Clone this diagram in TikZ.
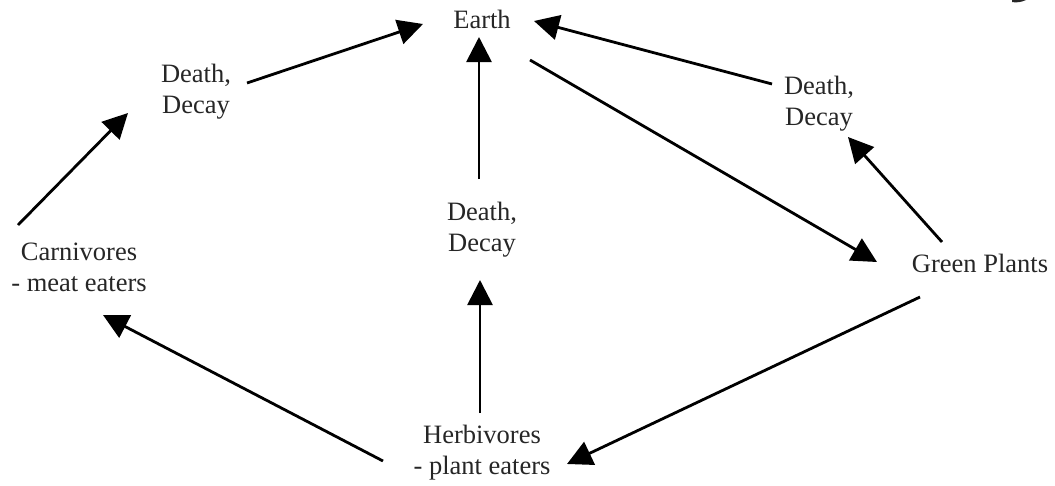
\documentclass[tikz,border=0pt]{standalone}
\usepackage{fontspec}
\setmainfont{Liberation Serif}
\usetikzlibrary{arrows.meta}
\begin{document}
\begin{tikzpicture}[x=1pt,y=-1pt,
  lbl/.style={inner sep=0pt,align=center,font=\fontsize{26.5}{31}\selectfont,text=black!85},
  conn/.style={line width=2.8pt,-{Triangle[length=25pt,width=25pt]}}]
\useasboundingbox (0,0) rectangle (1055,485);
% labels
\node[lbl] (earth) at (482,19) {Earth};
\node[lbl] (ddl) at (196,92) {Death,\\Decay};
\node[lbl] (ddr) at (819,104) {Death,\\Decay};
\node[lbl] (ddm) at (482,230) {Death,\\Decay};
\node[lbl] (carn) at (79,267) {Carnivores\\- meat eaters};
\node[lbl] (green) at (980,263) {Green Plants};
\node[lbl] (herb) at (482,453) {Herbivores\\- plant eaters};
% connector end points
\coordinate (c1s) at (18,225);   \coordinate (c1e) at (128,113);
\coordinate (c2s) at (247,83);   \coordinate (c2e) at (423,24);
\coordinate (c3s) at (479,179);  \coordinate (c3e) at (479,37);
\coordinate (c4s) at (530,60);   \coordinate (c4e) at (877,262);
\coordinate (c5s) at (772,84);   \coordinate (c5e) at (534,21);
\coordinate (c6s) at (942,242);  \coordinate (c6e) at (848,137);
\coordinate (c7s) at (920,297);  \coordinate (c7e) at (567,464);
\coordinate (c8s) at (480,413);  \coordinate (c8e) at (480,280);
\coordinate (c9s) at (383,461);  \coordinate (c9e) at (103,315);
\draw[conn] (c1s) -- (c1e);
\draw[conn] (c2s) -- (c2e);
\draw[conn] (c3s) -- (c3e);
\draw[conn] (c4s) -- (c4e);
\draw[conn] (c5s) -- (c5e);
\draw[conn] (c6s) -- (c6e);
\draw[conn] (c7s) -- (c7e);
\draw[conn] (c8s) -- (c8e);
\draw[conn] (c9s) -- (c9e);
% fragment in the top right corner
\fill[black!85] (1012,0) -- (1026,0) .. controls (1022,2) and (1016,3) .. (1012,2) -- cycle;
\end{tikzpicture}
\end{document}
